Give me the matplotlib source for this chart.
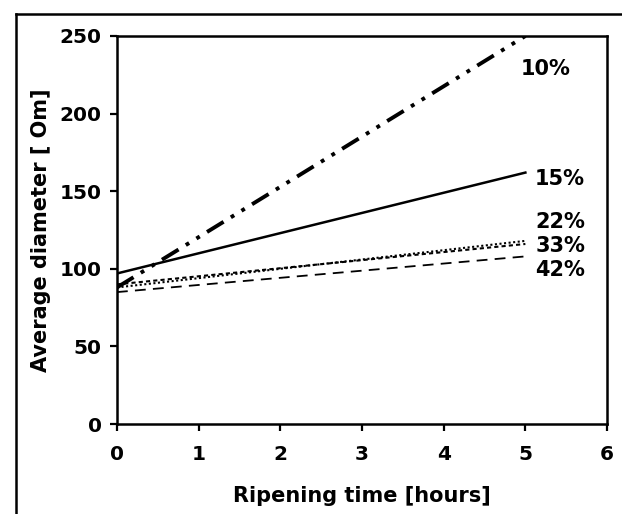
import matplotlib
matplotlib.use("Agg")
import matplotlib.pyplot as plt
from matplotlib.lines import Line2D

plt.rcParams['font.family'] = ['DejaVu Sans']

# Ripening time (hours) at the two ends of each fitted line
hours = [0, 5]

# Average diameter at start and end for each concentration
series_labels = ["10%", "15%", "22%", "33%", "42%"]
d_10 = [88, 250]
d_15 = [97, 162]
d_22 = [88, 118]
d_33 = [90, 116]
d_42 = [85, 108]

# label anchor positions (x in hours, y in diameter units)
label_x = [4.94, 5.12, 5.12, 5.12, 5.12]
label_y = [229, 158, 130, 115, 99]

x_ticks = [0, 1, 2, 3, 4, 5, 6]
y_ticks = [0, 50, 100, 150, 200, 250]

fig = plt.figure(figsize=(6.22, 5.14), dpi=100)
ax = fig.add_axes([0.188, 0.175, 0.788, 0.755])

ax.plot(hours, d_10, color='black', lw=2.8, linestyle=(0, (5, 2.2, 1, 2.2, 1, 2.2)))
ax.plot(hours, d_15, color='black', lw=1.8, linestyle='-')
ax.plot(hours, d_22, color='black', lw=1.5, linestyle=(0, (1, 1.2)))
ax.plot(hours, d_33, color='black', lw=1.5, linestyle=(0, (2, 1.5)))
ax.plot(hours, d_42, color='black', lw=1.3, linestyle=(0, (6, 4)))

for lab, lx, ly in zip(series_labels, label_x, label_y):
    ax.text(lx, ly, lab, fontsize=15, fontweight='bold', ha='left', va='center')

ax.set_xlim(0, 6)
ax.set_ylim(0, 250)
ax.set_xticks(x_ticks)
ax.set_yticks(y_ticks)
ax.tick_params(axis='both', direction='out', length=5, width=1.6, labelsize=14.5)
ax.tick_params(axis='x', pad=10)
ax.tick_params(axis='y', pad=6)
for t in ax.get_xticklabels() + ax.get_yticklabels():
    t.set_fontweight('bold')
for s in ax.spines.values():
    s.set_linewidth(1.8)

ax.set_xlabel("Ripening time [hours]", fontsize=15, fontweight='bold', labelpad=16)
ax.set_ylabel("Average diameter [ Om]", fontsize=15, fontweight='bold', labelpad=6)

# outer frame around the figure (left and top edges)
fig.add_artist(Line2D([16/622, 16/622], [0, 1 - 14/514], transform=fig.transFigure, color='black', lw=1.8))
fig.add_artist(Line2D([16/622, 1], [1 - 14/514, 1 - 14/514], transform=fig.transFigure, color='black', lw=1.8))

fig.savefig("out.png", dpi=100)
